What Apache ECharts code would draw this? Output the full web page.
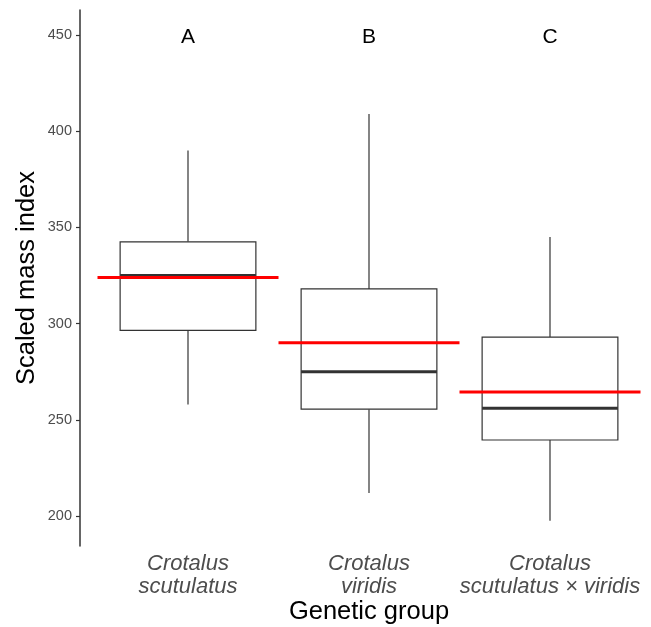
<!DOCTYPE html>
<html>
<head>
<meta charset="utf-8">
<script src="https://cdn.jsdelivr.net/npm/echarts@6/dist/echarts.min.js"></script>
<style>
  html, body { margin: 0; padding: 0; background: #fff; }
  #chart { width: 651px; height: 627px; }
</style>
</head>
<body>
<div id="chart"></div>
<script>
// genetic groups on the x axis
const groups = ["Crotalus\nscutulatus", "Crotalus\nviridis", "Crotalus\nscutulatus × viridis"]
// box stats: [lower whisker, Q1, median, Q3, upper whisker]
const boxStats = [
    [258, 296.5, 325, 342.5, 390],
    [212, 255.5, 275, 318, 409],
    [197.5, 239.5, 256, 293, 345]
]
// red lines = group means
const means = [324, 290, 264.5]
// significance letters
const letters = ["A", "B", "C"]
const letterY = 449
// y tick labels
const yTicks = [200, 250, 300, 350, 400, 450]

const FONT = "Liberation Sans, Arial, sans-serif"
const chart = echarts.init(document.getElementById("chart"))

const option = {
    animation: false,
    grid: {left: 97.5, right: 10.5, top: 10, bottom: 81, outerBoundsMode: "none", containLabel: false},
    xAxis: {
        type: "category",
        data: groups,
        boundaryGap: true,
        axisLine: {show: false},
        axisTick: {show: false},
        axisLabel: {
            interval: 0,
            margin: 6,
            fontFamily: FONT, fontSize: 22, fontStyle: "italic",
            color: "#4d4d4d", lineHeight: 23
        },
        name: "Genetic group",
        nameLocation: "middle",
        nameMoveOverlap: false,
        nameGap: 53,
        nameTextStyle: {fontFamily: FONT, fontSize: 25.5, color: "#000"}
    },
    yAxis: {
        type: "value",
        min: 184.4, max: 463,
        offset: 17.5,
        splitLine: {show: false},
        axisLine: {show: true, lineStyle: {color: "#333", width: 1.5}},
        axisTick: {show: true, length: 4, customValues: yTicks, lineStyle: {color: "#333", width: 1.2}},
        axisLabel: {
            margin: 8,
            customValues: yTicks,
            fontFamily: FONT, fontSize: 14.5, color: "#4d4d4d"
        },
        name: "Scaled mass index",
        nameLocation: "middle",
        nameMoveOverlap: false,
        nameGap: 40,
        nameTextStyle: {fontFamily: FONT, fontSize: 25.5, color: "#000"}
    },
    series: [
        {
            type: "custom",
            data: boxStats.map((s, i) => [i, ...s]),
            renderItem: (params, api) => {
                const i = api.value(0)
                const band = api.size([1, 0])[0]
                const half = band * 0.75 / 2
                const lo = api.coord([i, api.value(1)])
                const q1 = api.coord([i, api.value(2)])
                const med = api.coord([i, api.value(3)])
                const q3 = api.coord([i, api.value(4)])
                const hi = api.coord([i, api.value(5)])
                const x = lo[0]
                const stroke = {stroke: "#333", lineWidth: 1.2, fill: null}
                return {
                    type: "group",
                    children: [
                        {type: "line", shape: {x1: x, y1: hi[1], x2: x, y2: q3[1]}, style: stroke},
                        {type: "line", shape: {x1: x, y1: q1[1], x2: x, y2: lo[1]}, style: stroke},
                        {type: "rect", shape: {x: x - half, y: q3[1], width: half * 2, height: q1[1] - q3[1]},
                            style: {stroke: "#333", lineWidth: 1.2, fill: "#fff"}},
                        {type: "line", shape: {x1: x - half, y1: med[1], x2: x + half, y2: med[1]},
                            style: {stroke: "#333", lineWidth: 3}}
                    ]
                }
            }
        },
        {
            type: "custom",
            data: means.map((m, i) => [i, m]),
            renderItem: (params, api) => {
                const band = api.size([1, 0])[0]
                const p = api.coord([api.value(0), api.value(1)])
                return {
                    type: "line",
                    shape: {x1: p[0] - band / 2, y1: p[1], x2: p[0] + band / 2, y2: p[1]},
                    style: {stroke: "#ff0000", lineWidth: 3}
                }
            }
        },
        {
            type: "custom",
            data: letters.map((l, i) => [i, letterY]),
            renderItem: (params, api) => {
                const p = api.coord([api.value(0), api.value(1)])
                return {
                    type: "text",
                    x: p[0], y: p[1],
                    style: {
                        text: letters[params.dataIndex],
                        fontFamily: FONT, fontSize: 21, fill: "#000",
                        align: "center", verticalAlign: "middle"
                    }
                }
            }
        }
    ]
}

chart.setOption(option)
</script>
</body>
</html>
